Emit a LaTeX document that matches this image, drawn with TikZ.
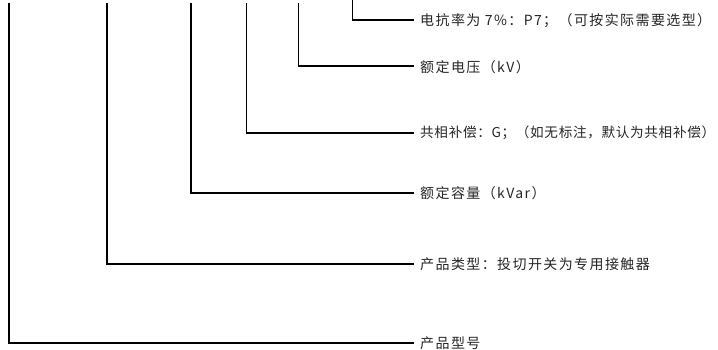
\documentclass[tikz,border=0pt]{standalone}
\usepackage{fontspec}
\newfontfamily\cjk[LetterSpace=10]{Noto Sans CJK SC}
\newfontfamily\cjknarrow[LetterSpace=5]{Noto Sans CJK SC}
\begin{document}
\begin{tikzpicture}[x=1pt,y=-1pt,
  lbl/.style={anchor=west,inner sep=0pt,font=\cjk\fontsize{14}{15}\selectfont,text=black!85},
  lblnarrow/.style={lbl,font=\cjknarrow\fontsize{13.6}{15}\selectfont},
  lead/.style={draw=black,line width=1.3pt}]
\useasboundingbox[fill=white] (0,0) rectangle (718,350);
\coordinate (v1) at (352.5,0);
\coordinate (v2) at (298.5,3);
\coordinate (v3) at (246.5,3);
\coordinate (v4) at (191,3);
\coordinate (v5) at (107,3);
\coordinate (v6) at (9,3);
\node[lbl] (t1) at (420,21) {电抗率为 7\%：P7；（可按实际需要选型）};
\node[lbl] (t2) at (420,67) {额定电压（kV）};
\node[lblnarrow] (t3) at (420,133) {共相补偿：G；（如无标注，默认为共相补偿）};
\node[lbl] (t4) at (420,193) {额定容量（kVar）};
\node[lbl] (t5) at (420,264) {产品类型：投切开关为专用接触器};
\node[lbl] (t6) at (420,343) {产品型号};
\draw[lead] (v1) |- ([xshift=-6pt,yshift=1pt]t1.west);
\draw[lead] (v2) |- ([xshift=-6pt,yshift=1pt]t2.west);
\draw[lead] (v3) |- ([xshift=-6pt]t3.west);
\draw[lead] (v4) |- ([xshift=-6pt]t4.west);
\draw[lead] (v5) |- ([xshift=-6pt]t5.west);
\draw[lead] (v6) |- ([xshift=-6pt]t6.west);
\end{tikzpicture}
\end{document}
